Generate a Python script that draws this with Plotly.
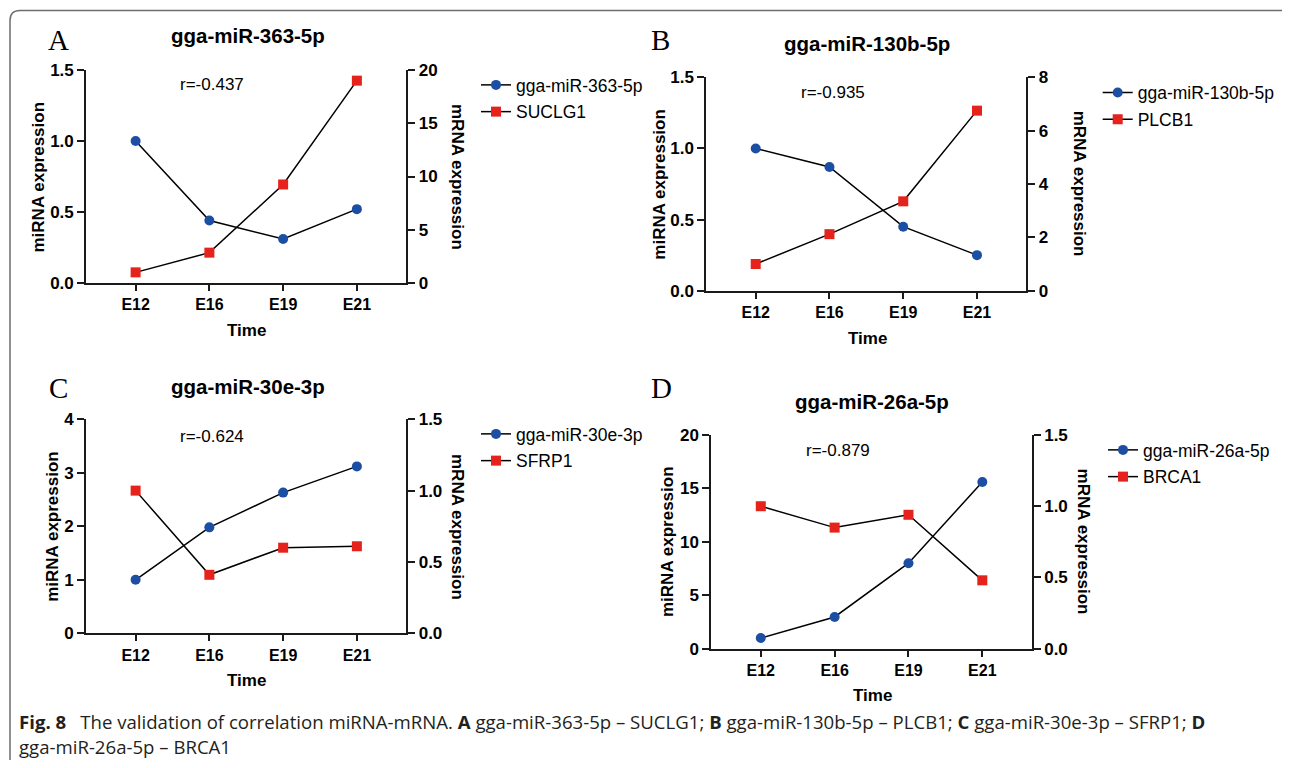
import plotly.graph_objects as go

# The page body has an 8px margin on every side, so the figure is kept inside it
OFF = 8
W, H = 1290 - 2 * OFF, 768 - 2 * OFF

# ---------------- data ----------------
time = ["E12", "E16", "E19", "E21"]

mir363 = [1.0, 0.44, 0.31, 0.52]
suclg1 = [1.0, 2.85, 9.25, 19.0]

mir130b = [1.0, 0.87, 0.45, 0.25]
plcb1 = [1.0, 2.12, 3.35, 6.75]

mir30e = [1.0, 1.98, 2.63, 3.12]
sfrp1 = [1.0, 0.41, 0.60, 0.61]

mir26a = [1.0, 2.97, 8.0, 15.6]
brca1 = [1.0, 0.85, 0.94, 0.48]

panel_letters = ["A", "B", "C", "D"]
panel_titles = ["gga-miR-363-5p", "gga-miR-130b-5p", "gga-miR-30e-3p", "gga-miR-26a-5p"]
mirna_names = ["gga-miR-363-5p", "gga-miR-130b-5p", "gga-miR-30e-3p", "gga-miR-26a-5p"]
mrna_names = ["SUCLG1", "PLCB1", "SFRP1", "BRCA1"]
r_values = ["r=-0.437", "r=-0.935", "r=-0.624", "r=-0.879"]
mirna_series = [mir363, mir130b, mir30e, mir26a]
mrna_series = [suclg1, plcb1, sfrp1, brca1]

left_ranges = [[0, 1.5], [0, 1.5], [0, 4], [0, 20]]
left_ticks = [[0, 0.5, 1.0, 1.5], [0, 0.5, 1.0, 1.5], [0, 1, 2, 3, 4], [0, 5, 10, 15, 20]]
left_fmt = [".1f", ".1f", "d", "d"]
right_ranges = [[0, 20], [0, 8], [0, 1.5], [0, 1.5]]
right_ticks = [[0, 5, 10, 15, 20], [0, 2, 4, 6, 8], [0, 0.5, 1.0, 1.5], [0, 0.5, 1.0, 1.5]]
right_fmt = ["d", "d", ".1f", ".1f"]

caption_line1 = ("<b>Fig. 8</b>\u2002 The validation of correlation miRNA-mRNA. <b>A</b> gga-miR-363-5p \u2013 SUCLG1; "
                 "<b>B</b> gga-miR-130b-5p \u2013 PLCB1; <b>C</b> gga-miR-30e-3p \u2013 SFRP1; <b>D</b>")
caption_line2 = "gga-miR-26a-5p \u2013 BRCA1"

# ---------------- layout geometry (window pixels) ----------------
def X(px):
    return (px - OFF) / W

def Y(py):
    return 1 - (py - OFF) / H

# plot areas: (left, right, top, bottom) in window pixels
areas = [
    (86.2, 406.3, 70.0, 283.0),
    (706.3, 1026.4, 77.3, 290.7),
    (86.2, 406.3, 419.3, 633.3),
    (711.3, 1031.8, 435.0, 648.7),
]
letter_pos = [(58, 40), (660, 40), (58, 388), (661, 388)]
title_pos = [(247.5, 35), (867.2, 43), (247.5, 386), (872.2, 401.7)]
r_pos = [(212, 85), (832.8, 93), (212, 436), (838.2, 450.7)]
time_pos = [(246.7, 330), (867, 338), (246.7, 680), (872, 695)]
ltitle_pos = [(37.5, 177), (658.7, 184), (51.8, 526), (667, 542)]
rtitle_pos = [(458, 177), (1080.3, 184), (458, 527), (1084.4, 542)]
legend_pos = [(496, 83), (1117.7, 90.7), (496, 432), (1123, 448)]

BLUE = "#1c4fa4"
RED = "#e5221b"
AX = "#1a1a1a"
FONT = "Liberation Sans, Arial, sans-serif"

fig = go.Figure()
annotations = []
layout = {}

for i in range(4):
    n = i + 1
    xa = "x" if n == 1 else f"x{n}"
    ya_l = f"y{2*i+1}" if i > 0 else "y"
    ya_r = f"y{2*i+2}"
    lg = "legend" if n == 1 else f"legend{n}"
    l, r, t, b = areas[i]

    fig.add_trace(go.Scatter(
        x=time, y=mirna_series[i], name=mirna_names[i], mode="lines+markers",
        line=dict(color="black", width=1.5),
        marker=dict(symbol="circle", size=10, color=BLUE),
        xaxis=xa, yaxis=ya_l, legend=lg, legendgroup=f"a{n}",
        cliponaxis=False,
    ))
    fig.add_trace(go.Scatter(
        x=time, y=mrna_series[i], name=mrna_names[i], mode="lines+markers",
        line=dict(color="black", width=1.5),
        marker=dict(symbol="square", size=10, color=RED),
        xaxis=xa, yaxis=ya_r, legend=lg, legendgroup=f"b{n}",
        cliponaxis=False,
    ))

    xkey = "xaxis" if n == 1 else f"xaxis{n}"
    ylkey = "yaxis" if i == 0 else f"yaxis{2*i+1}"
    yrkey = f"yaxis{2*i+2}"

    layout[xkey] = dict(
        domain=[X(l), X(r)], anchor=ya_l, type="category", automargin=False,
        range=[-0.67, 3.67], showline=True, linecolor=AX, linewidth=2,
        ticks="outside", ticklen=6, tickwidth=2, tickcolor=AX,
        showgrid=False, zeroline=False,
        tickfont=dict(family=FONT, size=16, color="black", weight="bold"),
    )
    layout[ylkey] = dict(
        domain=[Y(b), Y(t)], anchor=xa, range=left_ranges[i], automargin=False,
        tickvals=left_ticks[i], tickformat=left_fmt[i],
        showline=True, linecolor=AX, linewidth=2,
        ticks="outside", ticklen=7, tickwidth=2, tickcolor=AX,
        showgrid=False, zeroline=False,
        tickfont=dict(family=FONT, size=17, color="black", weight="bold"),
    )
    layout[yrkey] = dict(
        overlaying=ya_l, side="right", anchor=xa, range=right_ranges[i], automargin=False,
        tickvals=right_ticks[i], tickformat=right_fmt[i],
        showline=True, linecolor=AX, linewidth=2,
        ticks="outside", ticklen=7, tickwidth=2, tickcolor=AX,
        showgrid=False, zeroline=False,
        tickfont=dict(family=FONT, size=17, color="black", weight="bold"),
    )

    lx, ly = legend_pos[i]
    layout[lg] = dict(
        x=X(lx - 20), y=Y(ly - 16), xanchor="left", yanchor="top",
        bgcolor="rgba(0,0,0,0)", borderwidth=0, tracegroupgap=1,
        font=dict(family=FONT, size=17.5, color="black"),
    )

    annotations.append(dict(
        x=X(letter_pos[i][0]), y=Y(letter_pos[i][1]), xref="paper", yref="paper",
        text=panel_letters[i], showarrow=False, xanchor="center", yanchor="middle",
        font=dict(family="Liberation Serif, Times New Roman, serif", size=29, color="black"),
    ))
    annotations.append(dict(
        x=X(title_pos[i][0]), y=Y(title_pos[i][1]), xref="paper", yref="paper",
        text=f"<b>{panel_titles[i]}</b>", showarrow=False, xanchor="center", yanchor="middle",
        font=dict(family=FONT, size=20.5, color="black"),
    ))
    annotations.append(dict(
        x=X(r_pos[i][0]), y=Y(r_pos[i][1]), xref="paper", yref="paper",
        text=r_values[i], showarrow=False, xanchor="center", yanchor="middle",
        font=dict(family=FONT, size=17, color="black"),
    ))
    annotations.append(dict(
        x=X(time_pos[i][0]), y=Y(time_pos[i][1]), xref="paper", yref="paper",
        text="<b>Time</b>", showarrow=False, xanchor="center", yanchor="middle",
        font=dict(family=FONT, size=17, color="black"),
    ))
    annotations.append(dict(
        x=X(ltitle_pos[i][0]), y=Y(ltitle_pos[i][1]), xref="paper", yref="paper",
        text="<b>miRNA expression</b>", showarrow=False, xanchor="center", yanchor="middle",
        textangle=-90, font=dict(family=FONT, size=17, color="black"),
    ))
    annotations.append(dict(
        x=X(rtitle_pos[i][0]), y=Y(rtitle_pos[i][1]), xref="paper", yref="paper",
        text="<b>mRNA expression</b>", showarrow=False, xanchor="center", yanchor="middle",
        textangle=90, font=dict(family=FONT, size=17, color="black"),
    ))

# caption
CAP_FONT = "Open Sans, Noto Sans, sans-serif"
annotations.append(dict(
    x=X(17), y=Y(721), xref="paper", yref="paper", text=caption_line1, showarrow=False,
    xanchor="left", yanchor="middle", font=dict(family=CAP_FONT, size=18.6, color="#231f20"),
))
annotations.append(dict(
    x=X(17), y=Y(746), xref="paper", yref="paper", text=caption_line2, showarrow=False,
    xanchor="left", yanchor="middle", font=dict(family=CAP_FONT, size=18.6, color="#231f20"),
))

# border frame: only the left edge and the top edge are visible in the picture
def P(px, py):
    return f"{X(px):.5f},{Y(py):.5f}"

frame_path = (
    f"M {P(10, 775)} L {P(10, 20.5)} Q {P(10, 10.5)} {P(20, 10.5)} "
    f"L {P(1285, 10.5)} Q {P(1290, 10.5)} {P(1291, 13)}"
)

fig.update_layout(
    width=W, height=H, margin=dict(l=0, r=0, t=0, b=0, pad=0, autoexpand=False),
    paper_bgcolor="white", plot_bgcolor="white",
    annotations=annotations,
    shapes=[dict(type="path", path=frame_path, xref="paper", yref="paper",
                 line=dict(color="#6e6e6e", width=1.5), fillcolor="rgba(0,0,0,0)", layer="below")],
    showlegend=True,
    **layout,
)

fig.write_html("out.html")
